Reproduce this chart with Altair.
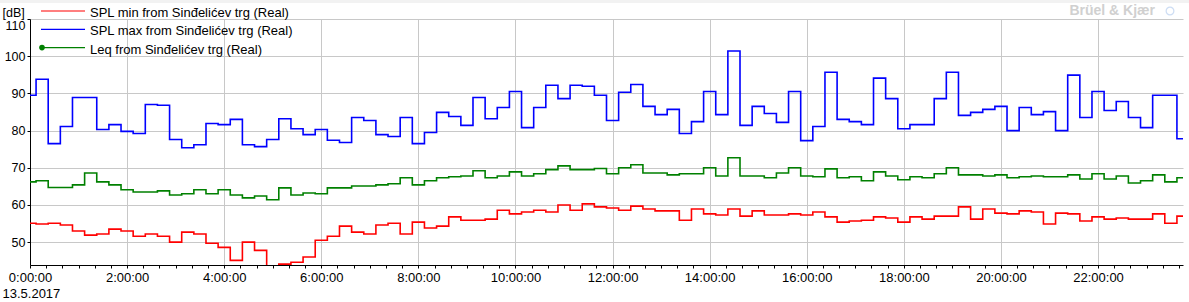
import altair as alt
import pandas as pd

series_names = [
    "SPL min from Sinđelićev trg (Real)",
    "SPL max from Sinđelićev trg (Real)",
    "Leq from Sinđelićev trg (Real)",
]
series_colors = ["#ff0000", "#0000ff", "#008000"]

# 15-minute samples over 13.5.2017 (hours)
step_hours = [i / 4 for i in range(96)]

spl_max = [
    89.5, 93.8, 76.5, 81.1, 88.9, 88.9, 80.3, 81.6, 79.8, 79.2, 87.0, 86.8,
    77.6, 75.4, 76.2, 81.9, 81.6, 83.0, 76.2, 75.7, 77.6, 83.2, 80.5, 78.9,
    80.3, 77.4, 76.8, 83.5, 82.7, 78.9, 78.4, 83.5, 76.5, 79.5, 84.9, 83.8,
    81.4, 88.9, 83.2, 86.2, 90.5, 80.8, 86.2, 92.2, 88.6, 92.2, 91.9, 89.5,
    82.7, 90.3, 92.4, 86.5, 84.3, 85.7, 79.2, 82.4, 90.5, 84.3, 101.4, 81.4,
    86.5, 84.6, 82.2, 90.5, 77.3, 81.1, 95.7, 83.0, 82.4, 81.6, 94.1, 88.6,
    80.5, 81.6, 81.6, 88.6, 95.7, 84.1, 84.9, 85.7, 86.5, 80.0, 86.2, 84.3,
    85.1, 80.0, 94.9, 83.5, 90.5, 85.4, 87.8, 83.5, 80.8, 89.5, 89.5, 77.8,
]

leq = [
    66.2, 66.5, 64.7, 64.7, 65.4, 68.6, 66.2, 65.4, 64.1, 63.5, 63.5, 63.8,
    62.7, 63.0, 64.1, 63.0, 64.1, 62.7, 61.9, 62.4, 61.4, 64.6, 62.7, 63.2,
    63.0, 64.6, 64.6, 65.1, 65.1, 65.4, 65.7, 67.3, 65.4, 66.5, 67.3, 67.6,
    67.8, 69.2, 67.3, 67.8, 68.9, 67.8, 68.4, 69.5, 70.5, 69.5, 69.5, 69.8,
    68.4, 70.0, 70.8, 68.6, 68.6, 68.1, 68.4, 68.4, 70.0, 67.8, 72.7, 67.8,
    67.8, 67.3, 68.6, 70.0, 67.8, 67.6, 69.7, 67.3, 67.6, 66.5, 68.9, 67.8,
    66.8, 67.6, 67.3, 68.4, 70.0, 68.1, 68.1, 67.8, 68.1, 67.3, 67.6, 67.8,
    67.6, 67.6, 68.1, 67.0, 68.4, 67.0, 67.8, 65.9, 66.5, 68.1, 66.2, 67.3,
]

spl_min = [
    55.1, 54.9, 55.1, 54.6, 53.0, 51.9, 52.2, 53.5, 53.0, 51.6, 52.2, 51.6,
    50.0, 52.7, 52.2, 49.7, 48.6, 45.1, 50.0, 47.8, 43.0, 44.1, 44.6, 46.0,
    50.5, 51.6, 54.3, 52.7, 52.2, 54.6, 55.1, 52.2, 55.4, 53.8, 54.3, 56.8,
    55.9, 55.9, 56.2, 58.6, 57.6, 58.1, 58.6, 58.1, 60.0, 58.6, 60.3, 59.5,
    59.2, 58.6, 59.7, 58.9, 58.4, 58.4, 55.9, 58.9, 57.6, 57.3, 58.9, 57.0,
    58.4, 57.3, 57.3, 57.6, 57.3, 58.1, 56.8, 55.4, 55.7, 55.9, 56.8, 56.5,
    55.4, 56.8, 56.2, 57.0, 57.0, 59.5, 56.2, 58.9, 57.8, 57.6, 58.4, 58.1,
    54.9, 57.8, 57.6, 55.7, 56.8, 56.2, 56.5, 56.2, 56.2, 57.6, 55.1, 57.0,
]

y_ticks = [50, 60, 70, 80, 90, 100, 110]
x_ticks = [i / 3 for i in range(72)]  # every 20 minutes
x_domain = [0, 23.75]
y_domain = [43.86, 110]

rows = []
for name, vals in zip(series_names, [spl_min, spl_max, leq]):
    for t, v in zip(step_hours, vals):
        rows.append({"t": t, "v": v, "series": name})
df = pd.DataFrame(rows)

legend_df = pd.DataFrame({"label": series_names, "row": [0, 1, 2]})

FONT = "Liberation Sans"
GRID = "#c8c8c8"

is_major = "abs(datum.value / 2 - round(datum.value / 2)) < 0.01"

x_axis = alt.Axis(
    values=x_ticks,
    labelExpr=f"({is_major}) ? round(datum.value) + ':00:00' : ''",
    labelFlush=False,
    labelOverlap=False,
    labelFontSize=13,
    labelPadding=3,
    tickSize=3,
    tickColor="black",
    domainColor="black",
    grid=True,
    gridColor=GRID,
    gridOpacity={"condition": {"test": is_major, "value": 1}, "value": 0},
    title="13.5.2017",
    titleFontSize=13,
    titleFontWeight="normal",
    titleAlign="left",
    titleBaseline="middle",
    titleX=-28,
    titleY=28,
)

y_axis = alt.Axis(
    values=y_ticks,
    labelFontSize=12.5,
    labelPadding=2,
    labelFlush=True,
    tickSize=3,
    tickColor="black",
    domainColor="black",
    grid=True,
    gridColor=GRID,
    title="[dB]",
    titleAngle=0,
    titleFontSize=12.5,
    titleFontWeight="normal",
    titleAlign="left",
    titleBaseline="middle",
    titleX=-28,
    titleY=-7,
)

lines = alt.Chart(df).mark_line(interpolate="step", strokeWidth=1.6, clip=True).encode(
    x=alt.X("t:Q", scale=alt.Scale(domain=x_domain, nice=False, zero=False), axis=x_axis),
    y=alt.Y("v:Q", scale=alt.Scale(domain=y_domain, nice=False, zero=False), axis=y_axis),
    color=alt.Color("series:N", scale=alt.Scale(domain=series_names, range=series_colors), legend=None),
)

leg_base = alt.Chart(legend_df).transform_calculate(ly="-8 + datum.row * 18.3")

leg_rules = leg_base.mark_rule(strokeWidth=1.2).encode(
    x=alt.value(11),
    x2=alt.value(55),
    y=alt.Y("ly:Q", scale=None),
    color=alt.Color("label:N", scale=alt.Scale(domain=series_names, range=series_colors), legend=None),
)

leg_text = leg_base.mark_text(align="left", baseline="middle", dy=2, font=FONT, fontSize=13, color="black").encode(
    x=alt.value(60),
    y=alt.Y("ly:Q", scale=None),
    text="label:N",
)

leg_dot = leg_base.transform_filter("datum.row == 2").mark_point(
    filled=True, shape="circle", size=32, opacity=1, color="#008000"
).encode(
    x=alt.value(12),
    y=alt.Y("ly:Q", scale=None),
)

one = pd.DataFrame({"k": [0]})
top_band = alt.Chart(one).mark_rect(color="#f2f2f2").encode(
    x=alt.value(-30), x2=alt.value(1159), y=alt.value(-19), y2=alt.value(-16)
)
logo = alt.Chart(one).mark_text(
    text="Brüel & Kjær", align="right", baseline="middle", font=FONT,
    fontSize=14, fontWeight="bold", color="#d0d0d0"
).encode(x=alt.value(1125), y=alt.value(-8))
logo_icon = alt.Chart(one).mark_point(
    shape="circle", size=60, color="#b8cff0", strokeWidth=1.2
).encode(x=alt.value(1140), y=alt.value(-8))

chart = alt.layer(
    top_band, lines, leg_rules, leg_dot, leg_text, logo, logo_icon
).properties(
    width=1153,
    height=246,
    autosize=alt.AutoSizeParams(type="none"),
    padding={"left": 30, "top": 19, "right": 6, "bottom": 37},
    background="white",
).configure_view(
    stroke=None
).configure_axis(
    labelFont=FONT, titleFont=FONT, labelColor="black", titleColor="black"
)

chart.save("out.html", embed_options={"renderer": "svg", "actions": False})
